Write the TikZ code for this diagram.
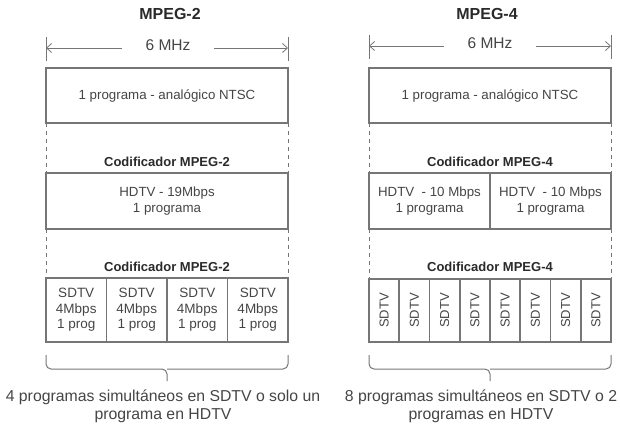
\documentclass[tikz,border=0pt]{standalone}
\usepackage{fontspec}
\setmainfont{Liberation Sans}
\usetikzlibrary{calc,arrows.meta}
\definecolor{ln}{HTML}{767676}
\definecolor{tx}{HTML}{454545}
\definecolor{tt}{HTML}{2A2A2A}
\begin{document}
\begin{tikzpicture}[x=1pt,y=-1pt,
  box/.style={draw=ln,line width=1.7pt,text=tx,inner sep=0pt,outer sep=0pt,align=center,font=\fontsize{13.3}{15.5}\selectfont},
  ttl/.style={text=tt,font=\bfseries\fontsize{16}{18}\selectfont},
  cod/.style={text=tt,font=\bfseries\fontsize{13}{15}\selectfont},
  lbl/.style={text=tx,font=\fontsize{15.5}{17}\selectfont},
  foot/.style={text=tx,align=center,font=\fontsize{15.8}{18}\selectfont},
  dim/.style={draw=ln,line width=0.8pt},
  dsh/.style={draw=ln,line width=0.8pt,dash pattern=on 4pt off 4pt},
  arr/.style={draw=ln,line width=0.8pt,-{Straight Barb[length=5pt,width=9pt]}},
  brc/.style={draw=ln,line width=1pt,rounded corners=5pt}]
\useasboundingbox (0,0) rectangle (620,436);
% ---------- MPEG-2 ----------
\node[ttl] (t2) at (170,14) {MPEG-2};
\node[lbl] (m2) at (168,45) {6 MHz};
\node[box,minimum width=242pt,minimum height=55pt] (a2) at (167,95.5) {1 programa - analógico NTSC};
\node[cod] (c2a) at (167,162) {Codificador MPEG-2};
\node[box,minimum width=242pt,minimum height=56pt] (h2) at (167,201) {HDTV - 19Mbps\\1 programa};
\node[cod] (c2b) at (167,267) {Codificador MPEG-2};
\foreach \i in {1,...,4}{
  \node[box,minimum width=60.5pt,minimum height=64pt,font=\fontsize{13.5}{15.5}\selectfont] (s2\i) at ({46+60.5*(\i-0.5)},310) {SDTV\\4Mbps\\1 prog};
}
\coordinate (l2t) at (46,37); \coordinate (l2b) at (46,61);
\coordinate (r2t) at (288,37); \coordinate (r2b) at (288,61);
\draw[dim] (l2t) -- (l2b);
\draw[dim] (r2t) -- (r2b);
\coordinate (l2y) at (46,48); \coordinate (r2y) at (288,48);
\draw[arr] (m2.west |- l2y) ++(-20,0) -- (l2y);
\draw[arr] (m2.east |- r2y) ++(20,0) -- (r2y);
\draw[dsh] (a2.south west) -- (h2.north west);
\draw[dsh] (a2.south east) -- (h2.north east);
\draw[dsh] (h2.south west) -- (s21.north west);
\draw[dsh] (h2.south east) -- (s24.north east);
\draw[brc] ($(s21.south west)+(0,13)$) -- ($(s21.south west)+(0,27)$) -- ($(s22.south east)+(0,27)$) -- ($(s22.south east)+(0,39)$);
\draw[brc] ($(s24.south east)+(0,13)$) -- ($(s24.south east)+(0,27)$) -- ($(s22.south east)+(0,27)$);
\node[foot] (f2) at (163,406) {4 programas simultáneos en SDTV o solo un\\programa en HDTV};
% ---------- MPEG-4 ----------
\node[ttl] (t4) at (487,14) {MPEG-4};
\node[lbl] (m4) at (490,43) {6 MHz};
\node[box,minimum width=242pt,minimum height=55pt] (a4) at (490,95.5) {1 programa - analógico NTSC};
\node[cod] (c4a) at (490,162) {Codificador MPEG-4};
\node[box,minimum width=121pt,minimum height=56pt] (h4a) at (429.5,201) {HDTV\ \ - 10 Mbps\\1 programa};
\node[box,minimum width=121pt,minimum height=56pt] (h4b) at (550.5,201) {HDTV\ \ - 10 Mbps\\1 programa};
\node[cod] (c4b) at (490,267) {Codificador MPEG-4};
\foreach \i in {1,...,8}{
  \node[box,minimum width=30.25pt,minimum height=63pt] (s4\i) at ({369+30.25*(\i-0.5)},310.5) {};
  \node[text=tx,rotate=90,font=\fontsize{13}{15}\selectfont] (q4\i) at (s4\i.center) {SDTV};
}
\coordinate (l4t) at (369,35); \coordinate (l4b) at (369,59);
\coordinate (r4t) at (611,35); \coordinate (r4b) at (611,59);
\draw[dim] (l4t) -- (l4b);
\draw[dim] (r4t) -- (r4b);
\coordinate (l4y) at (369,46); \coordinate (r4y) at (611,46);
\draw[arr] (m4.west |- l4y) ++(-20,0) -- (l4y);
\draw[arr] (m4.east |- r4y) ++(20,0) -- (r4y);
\draw[dsh] (a4.south west) -- (h4a.north west);
\draw[dsh] (a4.south east) -- (h4b.north east);
\draw[dsh] (h4a.south west) -- (s41.north west);
\draw[dsh] (h4b.south east) -- (s48.north east);
\draw[brc] ($(s41.south west)+(0,13)$) -- ($(s41.south west)+(0,27)$) -- ($(s44.south east)+(0,27)$) -- ($(s44.south east)+(0,39)$);
\draw[brc] ($(s48.south east)+(0,13)$) -- ($(s48.south east)+(0,27)$) -- ($(s44.south east)+(0,27)$);
\node[foot] (f4) at (481,406) {8 programas simultáneos en SDTV o 2\\programas en HDTV};
\end{tikzpicture}
\end{document}
